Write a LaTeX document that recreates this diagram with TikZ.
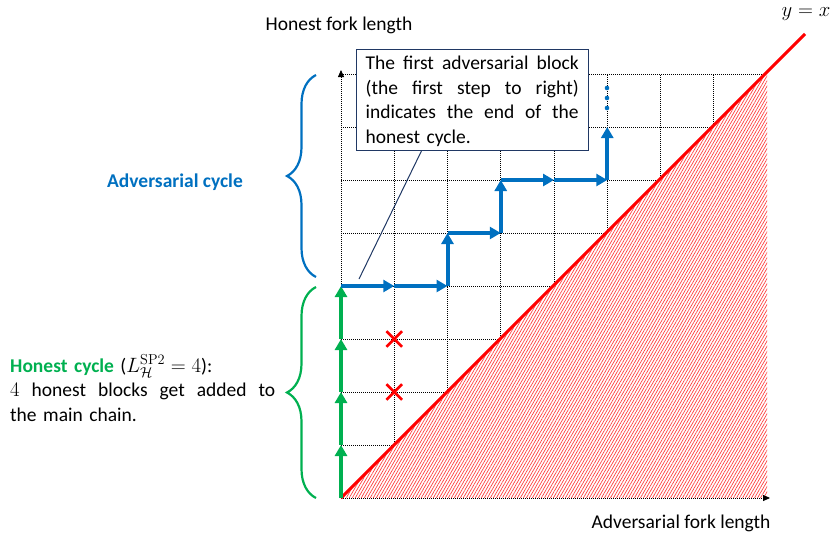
\documentclass[tikz,border=0pt]{standalone}
\usepackage{amsmath}
\usepackage[no-math]{fontspec}
\setmainfont{Carlito}
\usetikzlibrary{arrows.meta,decorations.pathreplacing,patterns.meta,shapes.misc,calc}
\definecolor{offblue}{HTML}{0070C0}
\definecolor{offgreen}{HTML}{00B050}
\definecolor{offred}{HTML}{FF0000}
\definecolor{navy}{HTML}{203864}
\tikzset{
  gridline/.style={black, line width=0.8pt, dash pattern=on 1pt off 1pt},
  axisline/.style={gridline, -{Triangle[width=6pt,length=7pt]}},
  garrow/.style={offgreen, line width=4pt, -{Triangle[width=12pt,length=11pt]}},
  barrow/.style={offblue, line width=4pt, -{Triangle[width=12pt,length=11pt]}},
  bracestyle/.style={line width=2.2pt, decorate, decoration={brace, amplitude=29pt, aspect=0.5}},
  crossmark/.style={draw=offred, cross out, line width=2.6pt, minimum size=13pt, inner sep=0pt},
  dotmark/.style={circle, fill=offblue, minimum size=4.6pt, inner sep=0pt},
  calloutframe/.style={draw=navy, line width=1pt, fill=white, minimum width=232pt, minimum height=101pt, inner sep=0pt},
  callouttext/.style={text width=213pt, inner sep=0pt, align=left},
}
\newcommand{\jline}[2]{\leavevmode\hbox to #1{#2}}
\begin{document}
\begin{tikzpicture}[x=1pt,y=-1pt, font=\fontsize{19.5}{24.5}\selectfont]
\useasboundingbox (0,0) rectangle (838,536);
\foreach \i in {0,...,8}{\foreach \j in {0,...,8}{\coordinate (g\i-\j) at ({341+53.25*\i},{498-53*\j});}}
% grid
\foreach \i in {1,...,7} \draw[gridline] (g\i-0) -- (g\i-8);
\foreach \j in {1,...,8} \draw[gridline] (g0-\j) -- (g8-\j);
% hatched region
\fill[white] (g0-0) -- (g8-8) -- (g8-0) -- cycle;
\fill[pattern={Lines[angle=60,distance=2.6pt,line width=0.7pt]}, pattern color=offred!75] (g0-0) -- (g8-8) -- (g8-0) -- cycle;
% axes
\coordinate (ytip) at (341,70);
\coordinate (xtip) at (770,498);
\draw[axisline] (g0-0) -- (ytip);
\draw[axisline] (g0-0) -- (xtip);
% diagonal
\coordinate (dend) at (805,34);
\draw[offred, line width=3pt] (g0-0) -- (dend);
% green honest arrows
\draw[garrow] (g0-0) -- (g0-1);
\draw[garrow] (g0-1) -- (g0-2);
\draw[garrow] (g0-2) -- (g0-3);
\draw[garrow] (g0-3) -- (g0-4);
% blue adversarial arrows
\draw[barrow] (g0-4) -- (g1-4);
\draw[barrow] (g1-4) -- (g2-4);
\draw[barrow] (g2-4) -- (g2-5);
\draw[barrow] (g2-5) -- (g3-5);
\draw[barrow] (g3-5) -- (g3-6);
\draw[barrow] (g3-6) -- (g4-6);
\draw[barrow] (g4-6) -- (g5-6);
\draw[barrow] (g5-6) -- (g5-7);
\node[dotmark] (d1) at (607,88) {};
\node[dotmark] (d2) at (607,98) {};
\node[dotmark] (d3) at (607,108) {};
% crosses
\node[crossmark] (x1) at (g1-3) {};
\node[crossmark] (x2) at (g1-2) {};
% callout
\node[calloutframe] (cb) at (472,99.5) {};
\node[callouttext, anchor=base west] (cbt) at (365.5,69.5) {\jline{213pt}{The\hfill first\hfill adversarial\hfill block}\\\jline{213pt}{(the\hfill first\hfill step\hfill to\hfill right)}\\\jline{213pt}{indicates\hfill the\hfill end\hfill of\hfill the}\\honest cycle.};
\coordinate (ptr) at (359,279);
\draw[navy, line width=1pt] ($(cb.south west)!0.284!(cb.south east)$) -- (ptr);
% braces
\coordinate (bb1) at (316,277);
\coordinate (bt1) at (316,75);
\coordinate (bb2) at (316,498);
\coordinate (bt2) at (316,287);
\draw[bracestyle, offblue] (bb1) -- (bt1);
\draw[bracestyle, offgreen] (bb2) -- (bt2);
% labels
\node (hfl) at (339,25) {Honest fork length};
\node (afl) at (681,523) {Adversarial fork length};
\node[inner sep=1pt] (yx) at (806,14) {\fontsize{21}{24}\selectfont$y=x$};
\node[text=offblue, font=\fontsize{19.5}{24.5}\selectfont\bfseries] (ac) at (175,182) {Adversarial cycle};
\node[anchor=base west, text width=265pt, inner sep=0pt, align=left] (hc) at (10,372) {{\color{offgreen}\bfseries Honest cycle} ($L_{\mathcal{H}}^{\mathrm{SP2}}=4$):\\\jline{265pt}{$4$\hfill honest\hfill blocks\hfill get\hfill added\hfill to}\\the main chain.};
\end{tikzpicture}
\end{document}
